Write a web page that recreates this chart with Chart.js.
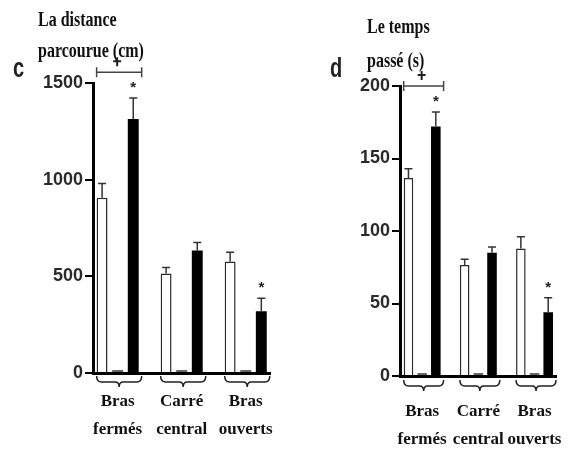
<!DOCTYPE html>
<html><head><meta charset="utf-8">
<script src="https://cdn.jsdelivr.net/npm/chart.js@4"></script>
<style>
body{margin:0;background:#fff;width:584px;height:453px;position:relative;overflow:hidden}
.wrap{position:absolute;top:0;height:453px}
.t{position:absolute;font-family:"Liberation Serif","Times New Roman",serif;font-weight:bold;font-size:16px;color:#111;transform:scaleY(1.35);transform-origin:left top;white-space:nowrap;line-height:1}
.p{position:absolute;font-family:"Liberation Sans",Arial,sans-serif;font-weight:bold;font-size:20px;color:#222;transform:scaleY(1.35);transform-origin:left top;line-height:1}
</style></head><body>
<div class="wrap" style="left:0;width:290px"><canvas id="cC" width="290" height="453"></canvas></div>
<div class="wrap" style="left:290px;width:294px"><canvas id="cD" width="294" height="453"></canvas></div>
<div class="t" style="left:38px;top:8px">La distance</div>
<div class="t" style="left:38px;top:39px">parcourue (cm)</div>
<div class="t" style="left:367px;top:15px">Le temps</div>
<div class="t" style="left:367px;top:49px">passé (s)</div>
<div class="p" style="left:13px;top:54px">c</div>
<div class="p" style="left:330px;top:54px">d</div>
<script>
// ---- data ----
const categories = [["Bras","fermés"],["Carré","central"],["Bras","ouverts"]];

const distWhite    = [907, 515, 577];
const distMid      = [15, 15, 15];
const distBlack    = [1314, 634, 320];
const distWhiteErr = [73, 31, 47];
const distBlackErr = [109, 41, 67];
const distStars    = [true, false, true];
const distTicks    = [0, 500, 1000, 1500];
const distBracket  = 1555;

const timeWhite    = [136.5, 76.5, 88];
const timeMid      = [2, 2, 2];
const timeBlack    = [172, 85, 44];
const timeWhiteErr = [6.5, 4, 8];
const timeBlackErr = [10, 4, 10];
const timeStars    = [true, false, true];
const timeTicks    = [0, 50, 100, 150, 200];
const timeBracket  = 200;

// ---- drawing ----
const annot = {
  id: 'annot',
  afterDraw(chart) {
    const o = chart.options.plugins.annot;
    const c = chart.ctx, y = chart.scales.y, area = chart.chartArea;
    const mW = chart.getDatasetMeta(0), mB = chart.getDatasetMeta(2);
    c.save();
    c.strokeStyle = '#333'; c.lineWidth = 1.5;
    [[mW, o.wErr, o.white], [mB, o.bErr, o.black]].forEach(([m, err, vals]) => {
      m.data.forEach((bar, i) => {
        const top = y.getPixelForValue(vals[i] + err[i]);
        c.beginPath();
        c.moveTo(bar.x, bar.y); c.lineTo(bar.x, top);
        c.moveTo(bar.x - 4, top); c.lineTo(bar.x + 4, top);
        c.stroke();
      });
    });
    // asterisks
    c.fillStyle = '#222'; c.font = 'bold 15px "Liberation Sans", Arial'; c.textAlign = 'center'; c.textBaseline = 'middle';
    mB.data.forEach((bar, i) => {
      if (o.stars[i]) {
        const top = y.getPixelForValue(o.black[i] + o.bErr[i]);
        c.fillText('*', bar.x, top - 10);
      }
    });
    // bracket over first group
    const b0 = mW.data[0], b2 = mB.data[0];
    const l = b0.x - b0.width / 2, r = b2.x + b2.width / 2 + 3;
    const by = y.getPixelForValue(o.bracket);
    c.strokeStyle = '#444'; c.lineWidth = 1.5;
    c.beginPath();
    c.moveTo(l, by); c.lineTo(r, by);
    c.moveTo(l, by - 5); c.lineTo(l, by + 5);
    c.moveTo(r, by - 5); c.lineTo(r, by + 5);
    c.stroke();
    const px = (l + r) / 2 - 2, py = by - 11;
    c.strokeStyle = '#222'; c.lineWidth = 2;
    c.beginPath();
    c.moveTo(px - 4, py); c.lineTo(px + 4, py);
    c.moveTo(px, py - 4); c.lineTo(px, py + 5);
    c.stroke();
    // braces under groups
    c.strokeStyle = '#222'; c.lineWidth = 1.5;
    const bot = area.bottom;
    mW.data.forEach((bw, i) => {
      const bb = mB.data[i];
      const L = bw.x - bw.width / 2, R = bb.x + bb.width / 2 + 3, M = (L + R) / 2;
      const t = bot + 3 + o.braceOff, h = 6;
      c.beginPath();
      c.moveTo(L, t);
      c.quadraticCurveTo(L, t + h, L + 5, t + h);
      c.lineTo(M - 4, t + h);
      c.quadraticCurveTo(M, t + h, M, t + h + 5);
      c.quadraticCurveTo(M, t + h, M + 4, t + h);
      c.lineTo(R - 5, t + h);
      c.quadraticCurveTo(R, t + h, R, t);
      c.stroke();
    });
    c.restore();
  }
};

function makeChart(id, o) {
  const pts = arr => arr.map((v, i) => ({ x: i, y: v }));
  return new Chart(document.getElementById(id), {
    type: 'bar',
    data: {
      datasets: [
        { data: pts(o.white), backgroundColor: '#fff', borderColor: '#2b2b2b', borderWidth: 1.5 },
        { data: pts(o.mid), backgroundColor: '#666', borderWidth: 0 },
        { data: pts(o.black), backgroundColor: '#000', borderWidth: 0 }
      ]
    },
    options: {
      responsive: false, animation: false,
      categoryPercentage: 0.73, barPercentage: 0.7,
      layout: { padding: { left: 0, right: o.padRight, top: o.padTop, bottom: 0 } },
      plugins: { legend: { display: false }, tooltip: { enabled: false }, annot: o },
      scales: {
        x: {
          type: 'linear', min: o.xMin, max: o.xMax, offset: false, z: 1,
          afterBuildTicks: s => { s.ticks = categories.map((_, i) => ({ value: i })); },
          afterFit: s => { s.height = o.xHeight; },
          grid: { display: false, drawTicks: false },
          border: { color: '#000', width: 3 },
          ticks: {
            callback: v => categories[v], maxRotation: 0, autoSkip: false,
            padding: o.labelPad, color: '#111',
            font: { family: '"Liberation Serif", "Times New Roman", serif', weight: 'bold', size: 17, lineHeight: '28px' }
          }
        },
        y: {
          min: o.ticks[0], max: o.ticks[o.ticks.length - 1], z: 1,
          afterBuildTicks: s => { s.ticks = o.ticks.map(v => ({ value: v })); },
          afterFit: s => { s.width = o.yWidth; },
          grid: { drawOnChartArea: false, tickLength: 8, color: '#000', lineWidth: 2 },
          border: { color: '#000', width: 3 },
          ticks: { padding: 2, color: '#2a2a2a', callback: v => String(v), font: { family: '"Liberation Sans", Arial, sans-serif', weight: 'bold', size: 18 } }
        }
      }
    },
    plugins: [annot]
  });
}

makeChart('cC', {
  white: distWhite, mid: distMid, black: distBlack, wErr: distWhiteErr, bErr: distBlackErr,
  stars: distStars, ticks: distTicks, bracket: distBracket,
  xMin: -0.385, xMax: 2.385, yWidth: 93, padTop: 83, padRight: 17, xHeight: 80, labelPad: 15, braceOff: 0
});
makeChart('cD', {
  white: timeWhite, mid: timeMid, black: timeBlack, wErr: timeWhiteErr, bErr: timeBlackErr,
  stars: timeStars, ticks: timeTicks, bracket: timeBracket,
  xMin: -0.394, xMax: 2.386, yWidth: 110, padTop: 86, padRight: 4, xHeight: 77, labelPad: 22, braceOff: 1
});
</script>
</body></html>
